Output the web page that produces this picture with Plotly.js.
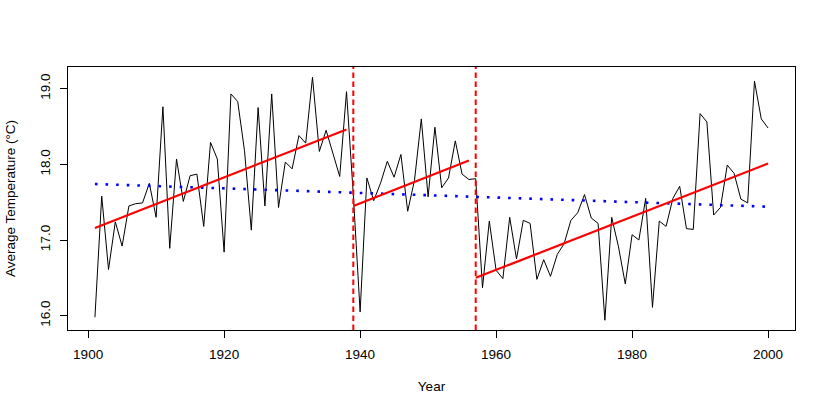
<!DOCTYPE html>
<html>
<head>
<meta charset="utf-8">
<script src="https://cdn.plot.ly/plotly-3.0.1.min.js"></script>
<style>html,body{margin:0;padding:0;background:#fff;}#chart{width:830px;height:415px;}</style>
</head>
<body>
<div id="chart"></div>
<script>
// Years 1901..2000
var years = [];
for (var y = 1901; y <= 2000; y++) years.push(y);

// Annual average temperature (°C)
var temps = [
  15.98, 17.58, 16.61, 17.24, 16.92, 17.45, 17.48, 17.49, 17.75, 17.30, // 1901-1910
  18.76, 16.89, 18.07, 17.51, 17.85, 17.87, 17.18, 18.29, 18.07, 16.84, // 1911-1920
  18.93, 18.83, 18.18, 17.13, 18.75, 17.45, 18.93, 17.43, 18.03, 17.94, // 1921-1930
  18.38, 18.28, 19.15, 18.17, 18.45, 18.14, 17.84, 18.96, 17.60, 16.05, // 1931-1940
  17.82, 17.52, 17.75, 18.04, 17.83, 18.13, 17.38, 17.79, 18.60, 17.57, // 1941-1950
  18.49, 17.69, 17.82, 18.31, 17.87, 17.80, 17.81, 16.37, 17.25, 16.60, // 1951-1960
  16.49, 17.30, 16.75, 17.26, 17.22, 16.48, 16.74, 16.52, 16.81, 16.95, // 1961-1970
  17.26, 17.36, 17.60, 17.29, 17.22, 15.94, 17.30, 16.91, 16.42, 17.07, // 1971-1980
  17.00, 17.55, 16.11, 17.25, 17.18, 17.55, 17.71, 17.15, 17.14, 18.67, // 1981-1990
  18.56, 17.33, 17.43, 17.99, 17.88, 17.54, 17.49, 19.10, 18.60, 18.48  // 1991-2000
];

// Piecewise trend lines: period start/end years and values
var periodStart    = [1901, 1939, 1957];
var periodEnd      = [1938, 1956, 2000];
var periodStartVal = [17.16, 17.45, 16.50];
var periodEndVal   = [18.46, 18.05, 18.01];

// Overall trend (dotted blue)
var overallYears = [1901, 2000];
var overallVals  = [17.74, 17.44];

// Break years marked with dashed lines
var breakYears = [1939, 1957];

var fontFam = '"Liberation Sans", Arial, Helvetica, sans-serif';
var traces = [];
traces.push({x: years, y: temps, type: 'scatter', mode: 'lines',
  line: {color: '#000000', width: 1}, hoverinfo: 'skip'});

traces.push({x: overallYears, y: overallVals, type: 'scatter', mode: 'lines',
  line: {color: '#0000FF', width: 2.6, dash: '2.6px,8px'}, hoverinfo: 'skip'});

for (var p = 0; p < periodStart.length; p++) {
  traces.push({x: [periodStart[p], periodEnd[p]], y: [periodStartVal[p], periodEndVal[p]],
    type: 'scatter', mode: 'lines',
    line: {color: '#FF0000', width: 2.2}, hoverinfo: 'skip'});
}

var shapes = breakYears.map(function (by) {
  return {type: 'line', xref: 'x', yref: 'paper', x0: by, x1: by, y0: 0, y1: 1,
    line: {color: '#FF0000', width: 2, dash: '5.5px,3.5px'}, layer: 'above'};
});

var layout = {
  width: 830, height: 415,
  margin: {l: 68, r: 35, t: 67, b: 85, pad: 0},
  paper_bgcolor: '#ffffff', plot_bgcolor: '#ffffff',
  showlegend: false,
  font: {family: fontFam, size: 13.5, color: '#000000'},
  xaxis: {
    range: [1897.04, 2003.96], tickvals: [1900, 1920, 1940, 1960, 1980, 2000],
    ticktext: ['1900', '1920', '1940', '1960', '1980', '2000'],
    ticks: 'outside', ticklen: 7, tickwidth: 1, tickcolor: '#000000',
    showline: true, mirror: true, linecolor: '#000000', linewidth: 1,
    showgrid: false, zeroline: false, ticklabelstandoff: 5,
    tickfont: {family: fontFam, size: 13.5, color: '#000000'},
    title: {text: 'Year', font: {family: fontFam, size: 13.5, color: '#000000'}, standoff: 20}
  },
  yaxis: {
    range: [15.811, 19.286], tickvals: [16, 17, 18, 19],
    ticktext: ['16.0', '17.0', '18.0', '19.0'], tickangle: -90,
    ticks: 'outside', ticklen: 7, tickwidth: 1, tickcolor: '#000000',
    showline: true, mirror: true, linecolor: '#000000', linewidth: 1,
    showgrid: false, zeroline: false, ticklabelstandoff: 5,
    tickfont: {family: fontFam, size: 13.5, color: '#000000'},
    title: {text: 'Average Temperature (°C)', font: {family: fontFam, size: 13.5, color: '#000000'}, standoff: 18}
  },
  shapes: shapes
};

Plotly.newPlot('chart', traces, layout, {staticPlot: true, displayModeBar: false});
</script>
</body>
</html>
